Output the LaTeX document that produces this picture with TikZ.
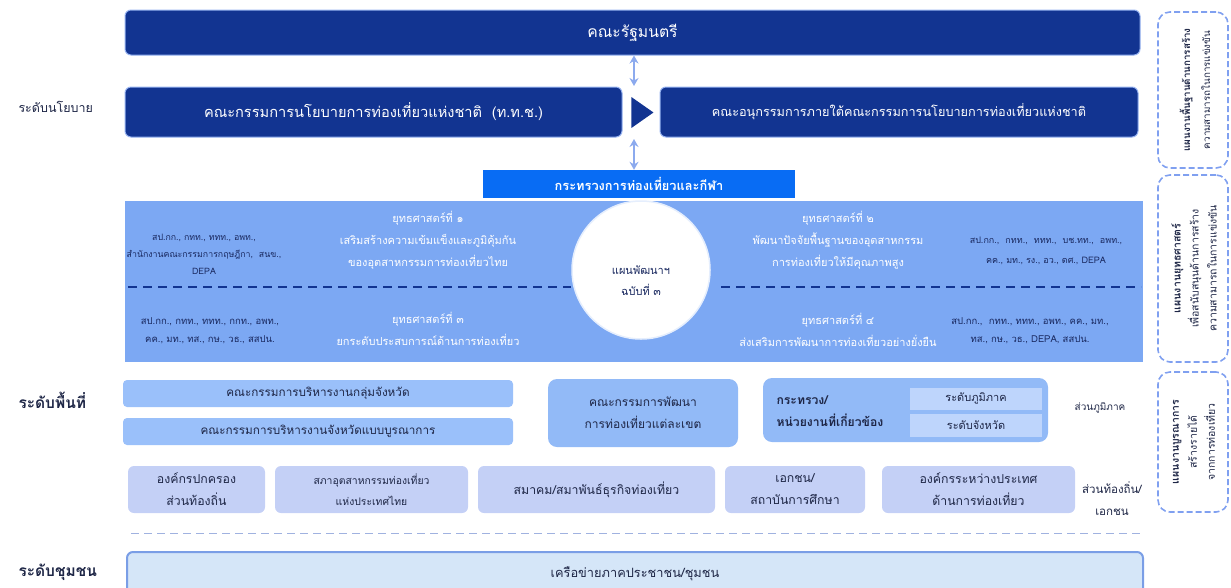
\documentclass[tikz,border=0pt]{standalone}
\usepackage{fontspec}
\setmainfont[Script=Thai]{Loma}
\usetikzlibrary{shapes.geometric,arrows.meta}
\definecolor{navy}{RGB}{18,52,145}
\definecolor{navyedge}{RGB}{150,178,240}
\definecolor{motblue}{RGB}{8,108,244}
\definecolor{panelblue}{RGB}{124,168,243}
\definecolor{paneltxt}{RGB}{25,40,95}
\definecolor{arrowblue}{RGB}{140,170,238}
\definecolor{areablue}{RGB}{154,192,250}
\definecolor{zoneblue}{RGB}{146,186,247}
\definecolor{subblue}{RGB}{190,213,252}
\definecolor{lav}{RGB}{196,208,246}
\definecolor{commfill}{RGB}{213,230,248}
\definecolor{commedge}{RGB}{122,158,230}
\definecolor{dashblue}{RGB}{128,160,240}
\definecolor{divgray}{RGB}{160,178,224}
\definecolor{txtdark}{RGB}{30,38,70}
\begin{document}
\begin{tikzpicture}[x=1pt,y=-1pt,
  navybox/.style={draw=navyedge,line width=1pt,fill=navy,rounded corners=6pt,text=white,inner sep=0pt},
  areabox/.style={fill=areablue,rounded corners=4pt,text=txtdark,inner sep=0pt,font=\fontsize{11.7}{14}\selectfont},
  lavbox/.style={fill=lav,rounded corners=6pt,text=txtdark,inner sep=0pt,align=center,font=\fontsize{12.3}{22}\selectfont},
  rdash/.style={draw=dashblue,dashed,dash pattern=on 6pt off 3pt,line width=1.6pt,rounded corners=12pt,inner sep=0pt,minimum width=70pt},
  vtext/.style={rotate=90,align=center,text=txtdark,font=\fontsize{10.5}{18}\selectfont},
  dbl/.style={{Stealth[length=8pt,width=9pt]}-{Stealth[length=8pt,width=9pt]},draw=arrowblue,line width=2.5pt},
  strat/.style={text=white,align=center,font=\fontsize{11}{22}\selectfont},
  agency/.style={text=paneltxt,align=center,font=\fontsize{9.5}{18}\selectfont},
  lvl/.style={anchor=west,text=txtdark,font=\fontsize{15.5}{17}\selectfont\bfseries}]
\useasboundingbox (0,0) rectangle (1231,587);
% policy level
\node[navybox,minimum width=1015pt,minimum height=45pt,font=\fontsize{15.7}{18}\selectfont] (cab) at (632.5,32.5) {คณะรัฐมนตรี};
\node[navybox,minimum width=497pt,minimum height=50pt,font=\fontsize{14.6}{16}\selectfont] (ntpc) at (373.5,112) {คณะกรรมการนโยบายการท่องเที่ยวแห่งชาติ~~(ท.ท.ช.)};
\node[navybox,minimum width=478pt,minimum height=50pt,font=\fontsize{12.7}{16}\selectfont] (subc) at (899,112) {คณะอนุกรรมการภายใต้คณะกรรมการนโยบายการท่องเที่ยวแห่งชาติ};
\node[isosceles triangle,isosceles triangle apex angle=70,fill=navy,inner sep=0pt,minimum height=22pt,minimum width=26pt] (tri) at (639.5,112.5) {};
\node[fill=motblue,minimum width=312pt,minimum height=28pt,inner sep=0pt,text=white,font=\fontsize{12.8}{14}\selectfont\bfseries] (mot) at (639,184) {กระทรวงการท่องเที่ยวและกีฬา};
\coordinate (a1) at (634,86);
\coordinate (a2) at (634,139);
\draw[dbl] (cab.south -| a1) -- (a1);
\draw[dbl] (a2) -- (mot.north -| a2);
\node[anchor=west,text=txtdark,font=\fontsize{12.5}{14}\selectfont] (lpol) at (15,107) {ระดับนโยบาย};
% strategy panel
\node[fill=panelblue,minimum width=1018pt,minimum height=161pt,inner sep=0pt] (panel) at (634,281.5) {};
\draw[navy,line width=1.6pt,dash pattern=on 9pt off 6pt] (128,287) -- (571,287);
\draw[navy,line width=1.6pt,dash pattern=on 9pt off 6pt] (721,287) -- (1141,287);
\node[circle,fill=white,draw=white!80!panelblue,line width=1.5pt,minimum size=138pt,inner sep=0pt] (circ) at (641,270) {};
\node[align=center,text=paneltxt,font=\fontsize{11}{21}\selectfont] (circt) at (circ.center) [yshift=-11pt] {แผนพัฒนาฯ\\ฉบับที่ ๓};
\node[strat] (s1) at (428,240) {ยุทธศาสตร์ที่ ๑\\เสริมสร้างความเข้มแข็งและภูมิคุ้มกัน\\ของอุตสาหกรรมการท่องเที่ยวไทย};
\node[agency,font=\fontsize{8.8}{17}\selectfont] (a1t) at (204,254) {สป.กก., กทท., ททท., อพท.,\\สำนักงานคณะกรรมการกฤษฎีกา,~~สนข.,\\DEPA};
\node[strat] (s2) at (838,240) {ยุทธศาสตร์ที่ ๒\\พัฒนาปัจจัยพื้นฐานของอุตสาหกรรม\\การท่องเที่ยวให้มีคุณภาพสูง};
\node[agency,font=\fontsize{9}{19.5}\selectfont] (a2t) at (1046,251) {สป.กก.,~ กทท.,~ ททท.,~ บช.ทท.,~ อพท.,\\คค., มท., รง., อว., ดศ., DEPA};
\node[strat] (s3) at (428,329) {ยุทธศาสตร์ที่ ๓\\ยกระดับประสบการณ์ด้านการท่องเที่ยว};
\node[agency] (a3t) at (210,331) {สป.กก., กทท., ททท., กกท., อพท.,\\คค., มท., ทส., กษ., วธ., สสปน.};
\node[strat] (s4) at (838,330) {ยุทธศาสตร์ที่ ๔\\ส่งเสริมการพัฒนาการท่องเที่ยวอย่างยั่งยืน};
\node[agency] (a4t) at (1030,331) {สป.กก.,~ กทท., ททท., อพท., คค., มท.,\\ทส., กษ., วธ., DEPA, สสปน.};
% area level
\node[lvl] (larea) at (15,400) {ระดับพื้นที่};
\node[areabox,minimum width=390pt,minimum height=27pt] (g1) at (318,393.5) {คณะกรรมการบริหารงานกลุ่มจังหวัด};
\node[areabox,minimum width=390pt,minimum height=27pt] (g2) at (318,431.5) {คณะกรรมการบริหารงานจังหวัดแบบบูรณาการ};
\node[fill=zoneblue,rounded corners=9pt,minimum width=190pt,minimum height=68pt,inner sep=0pt,align=center,text=txtdark,font=\fontsize{12}{22}\selectfont] (zone) at (643,413) {คณะกรรมการพัฒนา\\การท่องเที่ยวแต่ละเขต};
\node[fill=zoneblue,rounded corners=9pt,minimum width=285pt,minimum height=64pt,inner sep=0pt] (minb) at (905.5,410) {};
\node[anchor=west,align=left,text=txtdark,font=\fontsize{12.2}{22}\selectfont\bfseries] (mint) at (773,411) {กระทรวง/\\หน่วยงานที่เกี่ยวข้อง};
\node[fill=subblue,minimum width=132pt,minimum height=22pt,inner sep=0pt,text=txtdark,font=\fontsize{11}{12}\selectfont] (reg) at (976,399) {ระดับภูมิภาค};
\node[fill=subblue,minimum width=132pt,minimum height=23pt,inner sep=0pt,text=txtdark,font=\fontsize{11}{12}\selectfont] (prov) at (976,425) {ระดับจังหวัด};
\node[text=txtdark,font=\fontsize{10}{12}\selectfont] (lreg) at (1100,408) {ส่วนภูมิภาค};
% local row
\node[lavbox,minimum width=137pt,minimum height=47pt] (l1) at (196.5,489.5) {องค์กรปกครอง\\ส่วนท้องถิ่น};
\node[lavbox,minimum width=193pt,minimum height=47pt,font=\fontsize{10.4}{21}\selectfont] (l2) at (371.5,489.5) {สภาอุตสาหกรรมท่องเที่ยว\\แห่งประเทศไทย};
\node[lavbox,minimum width=237pt,minimum height=47pt] (l3) at (596.5,489.5) {สมาคม/สมาพันธ์ธุรกิจท่องเที่ยว};
\node[lavbox,minimum width=140pt,minimum height=47pt] (l4) at (795,489.5) {เอกชน/\\สถาบันการศึกษา};
\node[lavbox,minimum width=193pt,minimum height=47pt] (l5) at (978.5,489.5) {องค์กรระหว่างประเทศ\\ด้านการท่องเที่ยว};
\node[text=txtdark,align=center,font=\fontsize{11.5}{22}\selectfont] (lloc) at (1112,499) {ส่วนท้องถิ่น/\\เอกชน};
\draw[divgray,line width=1pt,dash pattern=on 8pt off 5pt] (131,533) -- (1143,533);
% community
\node[lvl] (lcom) at (15,572) {ระดับชุมชน};
\node[fill=commfill,draw=commedge,line width=2pt,rounded corners=6pt,minimum width=1016pt,minimum height=44pt,inner sep=0pt,text=txtdark,font=\fontsize{12.8}{14}\selectfont] (comm) at (635,574) {เครือข่ายภาคประชาชน/ชุมชน};
% right dashed boxes
\node[rdash,minimum height=156pt] (r1) at (1193,90) {};
\node[vtext,font=\fontsize{9.8}{20}\selectfont] (r1t) at (1195,90) {\bfseries แผนงานพื้นฐานด้านการสร้าง\\ความสามารถในการแข่งขัน};
\node[rdash,minimum height=187pt] (r2) at (1193,268.5) {};
\node[vtext] (r2t) at (1194,268.5) {\bfseries แผนงานยุทธศาสตร์\\เพื่อสนับสนุนด้านการสร้าง\\ความสามารถในการแข่งขัน};
\node[rdash,minimum height=140pt] (r3) at (1193,442) {};
\node[vtext] (r3t) at (1194,442) {\bfseries แผนงานบูรณาการ\\สร้างรายได้\\จากการท่องเที่ยว};
\end{tikzpicture}
\end{document}
